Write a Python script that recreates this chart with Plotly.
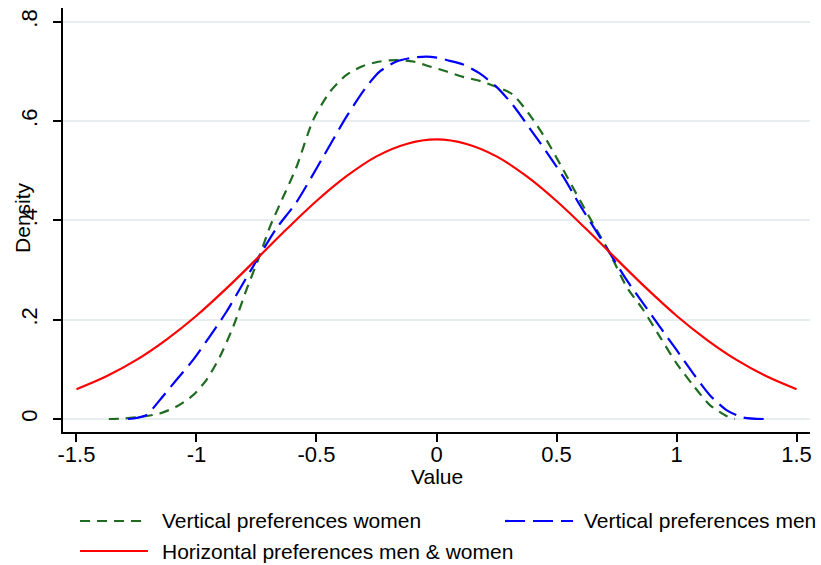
import plotly.graph_objects as go

# ---- data ----
women_x = [-1.365, -1.30, -1.222, -1.153, -1.083, -1.014, -0.958, -0.903, -0.847, -0.792,
           -0.736, -0.694, -0.653, -0.583, -0.514, -0.444, -0.375, -0.306, -0.236, -0.167,
           -0.097, -0.028, 0.042, 0.111, 0.180, 0.25, 0.319, 0.389, 0.458, 0.528,
           0.597, 0.667, 0.722, 0.792, 0.861, 0.930, 1.0, 1.069, 1.139, 1.208, 1.243]
women_y = [0.0, 0.001, 0.005, 0.011, 0.025, 0.048, 0.079, 0.125, 0.186, 0.260,
           0.330, 0.387, 0.432, 0.508, 0.602, 0.659, 0.693, 0.711, 0.720, 0.723,
           0.720, 0.710, 0.700, 0.689, 0.681, 0.669, 0.653, 0.612, 0.562, 0.502,
           0.441, 0.381, 0.334, 0.266, 0.220, 0.166, 0.112, 0.068, 0.028, 0.006, 0.0]

men_x = [-1.285, -1.25, -1.208, -1.153, -1.083, -1.014, -0.945, -0.875, -0.806, -0.736,
         -0.667, -0.583, -0.472, -0.375, -0.292, -0.236, -0.167, -0.097, -0.042, 0.014,
         0.042, 0.111, 0.180, 0.25, 0.319, 0.389, 0.458, 0.528, 0.597, 0.667,
         0.722, 0.792, 0.861, 0.930, 1.0, 1.069, 1.139, 1.208, 1.278, 1.365]
men_y = [0.0, 0.002, 0.008, 0.038, 0.079, 0.119, 0.166, 0.216, 0.273, 0.330,
         0.384, 0.437, 0.528, 0.609, 0.669, 0.700, 0.720, 0.728, 0.730, 0.727,
         0.723, 0.714, 0.696, 0.669, 0.632, 0.585, 0.538, 0.488, 0.431, 0.377,
         0.334, 0.280, 0.233, 0.186, 0.139, 0.092, 0.048, 0.018, 0.003, 0.0]

horiz_x = [-1.5, -1.375, -1.25, -1.125, -1.0, -0.875, -0.75, -0.625, -0.5, -0.375, -0.25, -0.125,
           0.0, 0.125, 0.25, 0.375, 0.5, 0.625, 0.75, 0.875, 1.0, 1.125, 1.25, 1.375, 1.5]
horiz_y = [0.060, 0.086, 0.119, 0.160, 0.208, 0.263, 0.322, 0.382, 0.439, 0.489, 0.529, 0.554,
           0.563, 0.554, 0.529, 0.489, 0.439, 0.382, 0.322, 0.263, 0.208, 0.160, 0.119, 0.086, 0.060]

series_names = ["Vertical preferences women", "Vertical preferences men",
                "Horizontal preferences men & women"]

x_ticks = [-1.5, -1, -0.5, 0, 0.5, 1, 1.5]
x_tick_labels = ["-1.5", "-1", "-0.5", "0", "0.5", "1", "1.5"]
y_ticks = [0, 0.2, 0.4, 0.6, 0.8]
y_tick_labels = ["0", ".2", ".4", ".6", ".8"]

# ---- styles ----
FONT = "Liberation Sans, Arial, sans-serif"
GREEN = "#1f6b1f"
BLUE = "#0000ff"
RED = "#ff0000"
styles = [
    dict(color=GREEN, width=2.2, dash="10px,7px"),
    dict(color=BLUE, width=2.2, dash="20px,8px"),
    dict(color=RED, width=2.2, dash="solid"),
]
smooth = [0.7, 0.7, 1.0]

fig = go.Figure()
for (xs, ys), name, st, sm in zip([(women_x, women_y), (men_x, men_y), (horiz_x, horiz_y)],
                                  series_names, styles, smooth):
    fig.add_trace(go.Scatter(x=xs, y=ys, mode="lines", name=name,
                             line=dict(shape="spline", smoothing=sm, **st),
                             showlegend=False, hoverinfo="skip"))

fig.update_layout(
    width=821, height=565,
    margin=dict(l=63, r=11, t=8, b=133),
    paper_bgcolor="white", plot_bgcolor="white",
    font=dict(family=FONT, size=21, color="black"),
)
fig.update_xaxes(
    range=[-1.556, 1.556], tickvals=x_ticks, ticktext=x_tick_labels,
    showgrid=False, zeroline=False, showline=True, linecolor="black", linewidth=1.5,
    ticks="outside", ticklen=8, tickwidth=1.5, tickcolor="black",
    tickfont=dict(size=22), ticklabelstandoff=-6,
)
fig.update_yaxes(
    range=[-0.0262, 0.8278], tickvals=y_ticks, ticktext=y_tick_labels,
    showgrid=True, gridcolor="#e6eef0", gridwidth=1.5, zeroline=False,
    showline=True, linecolor="black", linewidth=1.5,
    ticks="outside", ticklen=8, tickwidth=1.5, tickcolor="black",
    tickangle=-90, tickfont=dict(size=22), ticklabelstandoff=7,
)

# axis titles
fig.add_annotation(text="Value", xref="paper", yref="paper", x=0.5, y=-0.106,
                   showarrow=False, font=dict(size=21), xanchor="center", yanchor="middle")
fig.add_annotation(text="Density", xref="paper", yref="paper", x=-0.0535, y=0.505,
                   showarrow=False, font=dict(size=21), textangle=-90,
                   xanchor="center", yanchor="middle")

# legend (drawn below the plot, two columns)
legend_items = [
    (0.0228, 0.1138, 0.1299, -0.2099),
    (0.5917, 0.6827, 0.6948, -0.2099),
    (0.0228, 0.1138, 0.1299, -0.2807),
]
for (x0, x1, xt, yy), name, st in zip(legend_items, series_names, styles):
    fig.add_shape(type="line", xref="paper", yref="paper", x0=x0, x1=x1, y0=yy, y1=yy,
                  line=dict(color=st["color"], width=2.2, dash=st["dash"]))
    fig.add_annotation(text=name, xref="paper", yref="paper", x=xt, y=yy,
                       showarrow=False, xanchor="left", yanchor="middle",
                       font=dict(size=21))

fig.write_html("out.html")
